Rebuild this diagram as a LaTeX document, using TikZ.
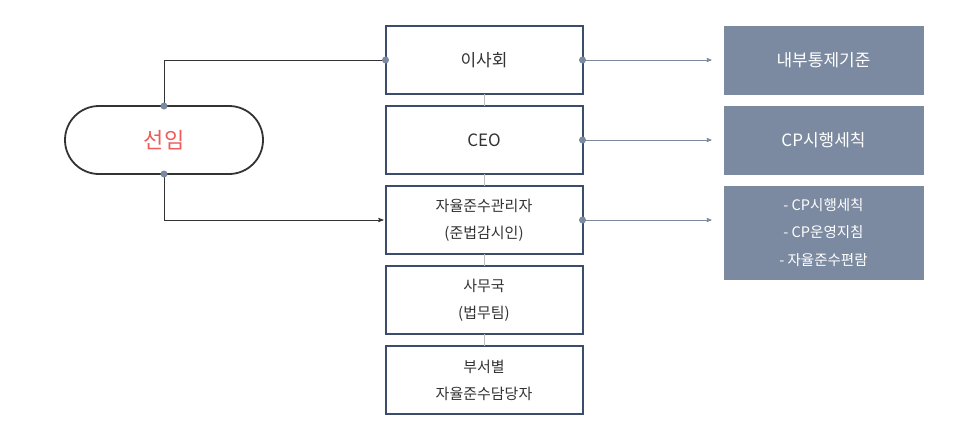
\documentclass[tikz,border=0pt]{standalone}
\usepackage{fontspec}
\setmainfont{Noto Sans CJK KR}
\usepackage{tikz}
\usetikzlibrary{arrows,positioning}
\definecolor{navy}{HTML}{3B4D6B}
\definecolor{slate}{HTML}{7B8AA1}
\definecolor{pink}{HTML}{EF5B5B}
\definecolor{ink}{HTML}{333333}

\begin{document}
\begin{tikzpicture}[x=1pt,y=-1pt,>=stealth',node distance=12pt,
  orgbox/.style={draw=navy,line width=2pt,outer sep=0pt,minimum width=197pt,
    minimum height=68pt,align=center,text=ink,font=\fontsize{15}{27}\selectfont},
  docbox/.style={fill=slate,outer sep=0pt,minimum width=200pt,minimum height=69pt,
    align=center,text=white,font=\fontsize{17}{20}\selectfont},
  pill/.style={draw=ink,line width=1.8pt,outer sep=0pt,rounded corners=34pt,
    minimum width=198pt,minimum height=68pt,text=pink,font=\fontsize{22}{24}\selectfont},
  link/.style={slate,line width=0.8pt,shorten >=12pt},
  dot/.style={slate}]

  \useasboundingbox (0,0) rectangle (960,442);

  \node[orgbox,font=\fontsize{17}{20}\selectfont] (board) at (484,60) {이사회};
  \node[orgbox,font=\fontsize{17}{20}\selectfont,below=of board] (ceo) {CEO};
  \node[orgbox,below=of ceo] (cmo) {자율준수관리자\\(준법감시인)};
  \node[orgbox,below=of cmo] (office) {사무국\\(법무팀)};
  \node[orgbox,below=of office] (dept) {부서별\\자율준수담당자};

  \node[pill] (elect) at (164,140) {선임};

  \node[docbox,right=141pt of board] (rule) {내부통제기준};
  \node[docbox,right=141pt of ceo] (cpdoc) {CP시행세칙};
  \node[docbox,below=11pt of cpdoc,minimum height=94pt,
    font=\fontsize{14.5}{27.5}\selectfont] (manual)
    {- CP시행세칙\\- CP운영지침\\- 자율준수편람};

  % vertical ties between the boxes
  \draw[black!25,line width=0.8pt] (board) -- (ceo);
  \draw[black!25,line width=0.8pt] (ceo) -- (cmo);
  \draw[black!25,line width=0.8pt] (cmo) -- (office);
  \draw[black!25,line width=0.8pt] (office) -- (dept);

  % appointment lines
  \draw[ink,line width=0.9pt] (elect.north) |- (board.west);
  \draw[ink,line width=0.9pt,->,shorten >=2pt] (elect.south) |- (cmo.west);

  % documents
  \draw[link,->] (board.east) -- (rule.west);
  \draw[link,->] (ceo.east) -- (cpdoc.west);
  \draw[link,->] (cmo.east) -- (cmo.east -| manual.west);

  \fill[dot] (elect.north) circle (3.5pt);
  \fill[dot] (elect.south) circle (3.5pt);
  \fill[dot] (board.west) circle (3.5pt);
  \fill[dot] (board.east) circle (3.5pt);
  \fill[dot] (ceo.east) circle (3.5pt);
  \fill[dot] (cmo.east) circle (3.5pt);
\end{tikzpicture}
\end{document}
